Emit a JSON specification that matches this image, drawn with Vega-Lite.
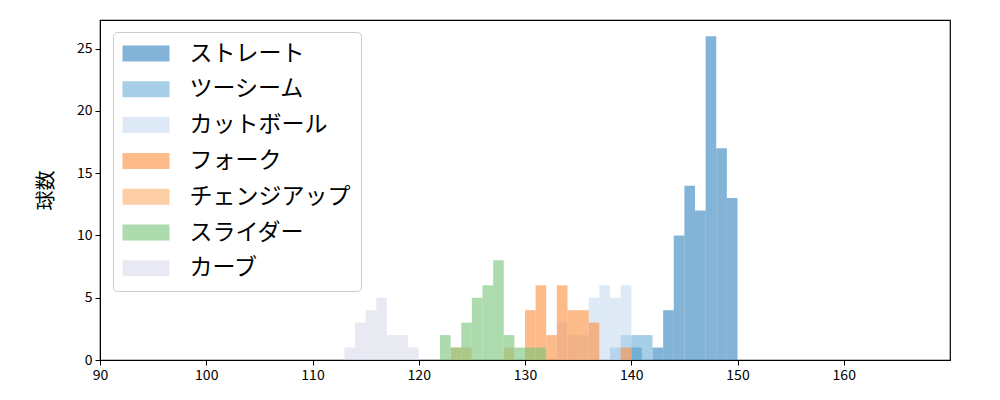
{
  "$schema": "https://vega.github.io/schema/vega-lite/v6.json",
  "width": 850,
  "height": 340,
  "autosize": {"type": "none"},
  "padding": {"left": 100, "top": 20, "right": 50, "bottom": 40},
  "background": "white",
  "config": {
    "view": {"stroke": "#000000", "strokeWidth": 1.2},
    "font": "Noto Sans CJK JP",
    "axis": {
      "domainColor": "#000000",
      "tickColor": "#000000",
      "labelColor": "#000000",
      "titleColor": "#000000",
      "grid": false,
      "tickSize": 5,
      "labelFontSize": 14,
      "labelFont": "Noto Sans CJK JP",
      "labelPadding": 3
    }
  },
  "data": {
    "values": [
      {"type": "ストレート", "start": 140, "count": 1},
      {"type": "ストレート", "start": 142, "count": 1},
      {"type": "ストレート", "start": 143, "count": 4},
      {"type": "ストレート", "start": 144, "count": 10},
      {"type": "ストレート", "start": 145, "count": 14},
      {"type": "ストレート", "start": 146, "count": 12},
      {"type": "ストレート", "start": 147, "count": 26},
      {"type": "ストレート", "start": 148, "count": 17},
      {"type": "ストレート", "start": 149, "count": 13},
      {"type": "ツーシーム", "start": 138, "count": 1},
      {"type": "ツーシーム", "start": 139, "count": 2},
      {"type": "ツーシーム", "start": 140, "count": 2},
      {"type": "ツーシーム", "start": 141, "count": 2},
      {"type": "カットボール", "start": 133, "count": 3},
      {"type": "カットボール", "start": 134, "count": 2},
      {"type": "カットボール", "start": 135, "count": 2},
      {"type": "カットボール", "start": 136, "count": 5},
      {"type": "カットボール", "start": 137, "count": 6},
      {"type": "カットボール", "start": 138, "count": 5},
      {"type": "カットボール", "start": 139, "count": 6},
      {"type": "フォーク", "start": 130, "count": 4},
      {"type": "フォーク", "start": 131, "count": 6},
      {"type": "フォーク", "start": 132, "count": 2},
      {"type": "フォーク", "start": 133, "count": 6},
      {"type": "フォーク", "start": 134, "count": 4},
      {"type": "フォーク", "start": 135, "count": 4},
      {"type": "フォーク", "start": 136, "count": 3},
      {"type": "フォーク", "start": 139, "count": 1},
      {"type": "チェンジアップ", "start": 123, "count": 1},
      {"type": "チェンジアップ", "start": 124, "count": 1},
      {"type": "チェンジアップ", "start": 128, "count": 1},
      {"type": "スライダー", "start": 122, "count": 2},
      {"type": "スライダー", "start": 123, "count": 1},
      {"type": "スライダー", "start": 124, "count": 3},
      {"type": "スライダー", "start": 125, "count": 5},
      {"type": "スライダー", "start": 126, "count": 6},
      {"type": "スライダー", "start": 127, "count": 8},
      {"type": "スライダー", "start": 128, "count": 2},
      {"type": "スライダー", "start": 129, "count": 1},
      {"type": "スライダー", "start": 130, "count": 1},
      {"type": "スライダー", "start": 131, "count": 1},
      {"type": "カーブ", "start": 113, "count": 1},
      {"type": "カーブ", "start": 114, "count": 3},
      {"type": "カーブ", "start": 115, "count": 4},
      {"type": "カーブ", "start": 116, "count": 5},
      {"type": "カーブ", "start": 117, "count": 2},
      {"type": "カーブ", "start": 118, "count": 2},
      {"type": "カーブ", "start": 119, "count": 1}
    ]
  },
  "transform": [{"calculate": "datum.start + 1", "as": "end"}],
  "mark": {"type": "bar", "opacity": 0.6, "strokeWidth": 0, "clip": true},
  "encoding": {
    "x": {
      "field": "start",
      "type": "quantitative",
      "scale": {"domain": [90, 170], "nice": false, "zero": false},
      "axis": {"values": [90, 100, 110, 120, 130, 140, 150, 160], "title": null, "labelFlush": false}
    },
    "x2": {"field": "end"},
    "y": {
      "field": "count",
      "type": "quantitative",
      "stack": null,
      "scale": {"domain": [0, 27.3], "nice": false},
      "axis": {"values": [0, 5, 10, 15, 20, 25], "title": "球数", "titleFontSize": 20, "titleFontWeight": "normal", "titlePadding": 20, "labelFlush": false}
    },
    "y2": {"datum": 0},
    "color": {
      "field": "type",
      "type": "nominal",
      "scale": {
        "domain": ["ストレート", "ツーシーム", "カットボール", "フォーク", "チェンジアップ", "スライダー", "カーブ"],
        "range": ["#3182bd", "#6baed6", "#c6dbef", "#fd8d3c", "#fdae6b", "#74c476", "#dadaeb"]
      },
      "legend": {
        "title": null,
        "orient": "none",
        "legendX": 13,
        "legendY": 12,
        "symbolType": "M-2.35,-0.8H2.35V0.8H-2.35Z",
        "symbolSize": 400,
        "symbolOffset": 11.5,
        "symbolOpacity": 0.6,
        "symbolStrokeWidth": 0,
        "labelFontSize": 23,
        "labelFont": "Noto Sans CJK JP",
        "labelColor": "#000000",
        "labelOffset": 32,
        "labelLimit": 400,
        "rowPadding": 11.8,
        "padding": 10,
        "strokeColor": "#cccccc",
        "fillColor": "#ffffff",
        "cornerRadius": 4
      }
    }
  }
}
